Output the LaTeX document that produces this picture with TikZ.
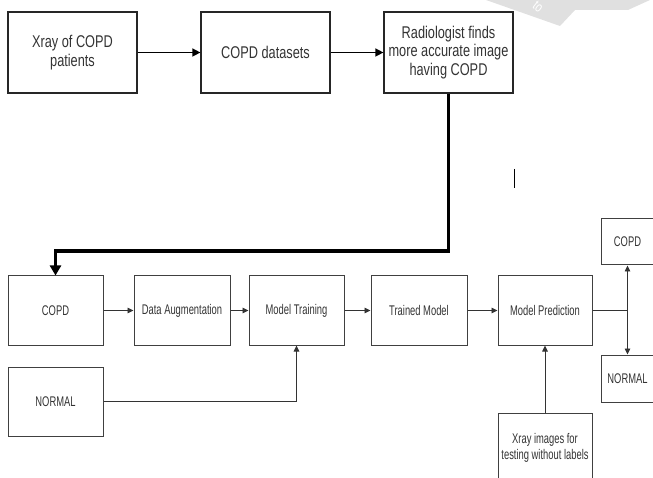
\documentclass[tikz,border=0pt]{standalone}
\usepackage{fontspec}
\setmainfont{Liberation Sans}[FakeStretch=0.75]
\newfontfamily\narrowsf{Liberation Sans}[FakeStretch=0.67]
\usetikzlibrary{arrows.meta}

\begin{document}
\begin{tikzpicture}[x=1pt,y=1pt,yscale=-1,xscale=1,
  topbox/.style={draw=black!85, line width=1.2pt, text=black!80, align=center,
    minimum width=129pt, minimum height=81pt, inner sep=2pt,
    font=\fontsize{17}{18.5}\selectfont},
  lowbox/.style={draw=black!75, line width=1pt, text=black!80, align=center,
    minimum width=95pt, minimum height=69pt, inner sep=1pt,
    font=\narrowsf\fontsize{14}{16.7}\selectfont},
  outbox/.style={lowbox, minimum width=53pt, minimum height=46pt},
  topflow/.style={draw=black, line width=1.4pt, -{Triangle[length=8pt,width=8pt]}},
  flow/.style={draw=black!80, line width=0.9pt, -{Triangle[length=6pt,width=5.5pt]}},
  thickflow/.style={draw=black, line width=3.5pt, -{Triangle[length=10pt,width=11pt]}}
  ]
\path[use as bounding box] (0,0) rectangle (653,478);

%Shape: watermark corner
\fill[black!12] (486,0) -- (650,0) -- (628,10) -- (575,10) -- (560,26) -- cycle ;
\node[white, rotate=-38, font=\fontsize{14}{14}\selectfont] (mark) at (538,7) {to};

%Shape: Rectangle (top row)
\node[topbox] (xray) at (72.5,52.5) {Xray of COPD\\patients};
\node[topbox] (datasets) at (265.5,52.5) {COPD datasets};
\node[topbox] (radio) at (448.5,52.5) {Radiologist finds\\more accurate image\\having COPD};

%Shape: Rectangle (bottom row)
\node[lowbox] (copd) at (55.5,310.5) {COPD};
\node[lowbox, minimum width=96pt] (augment) at (182,310.5) {Data Augmentation};
\node[lowbox] (training) at (296.5,310.5) {Model Training};
\node[lowbox, minimum width=96pt] (trained) at (419,310.5) {Trained Model};
\node[lowbox, minimum width=94pt] (predict) at (545,310.5) {Model Prediction};
\node[lowbox] (normal) at (55.5,401.5) {NORMAL};
\node[lowbox, minimum width=94pt, minimum height=70pt] (testing) at (545,448) {Xray images for\\testing without labels};

%Shape: Rectangle (outputs)
\node[outbox] (outcopd) at (627.5,242) {COPD};
\node[outbox, minimum height=47pt] (outnormal) at (627.5,378.5) {NORMAL};

%Straight Lines (top row)
\draw[topflow] (xray) -- (datasets);
\draw[topflow] (datasets) -- (radio);

%Straight Lines (thick link down)
\coordinate (bend) at (448.5,251);
\draw[thickflow] (radio.south) -- (bend) -| (copd.north);

%Straight Lines (bottom row)
\draw[flow] (copd) -- (augment);
\draw[flow] (augment) -- (training);
\draw[flow] (training) -- (trained);
\draw[flow] (trained) -- (predict);
\draw[flow] (normal.east) -| (training.south);
\draw[flow] (testing.north) -- (predict.south);

%Straight Lines (split to outputs)
\coordinate (split) at (627.5,310.5);
\draw[draw=black!80, line width=0.9pt] (predict.east) -- (split);
\draw[flow] (split) -- (outcopd.south);
\draw[flow] (split) -- (outnormal.north);

%Straight Lines (stray mark)
\draw[line width=0.9pt] (514,169) -- (514,188);

\end{tikzpicture}
\end{document}
